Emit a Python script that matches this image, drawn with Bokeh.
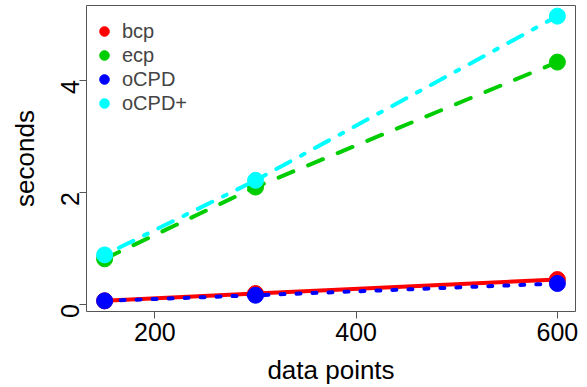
import math
from bokeh.plotting import figure
from bokeh.models import Range1d, FixedTicker, Legend, LegendItem
from bokeh.embed import file_html
from bokeh.resources import INLINE

# ---- data ----
x_points = [150, 300, 600]
bcp = [0.06, 0.19, 0.44]
ecp = [0.81, 2.09, 4.32]
ocpd = [0.06, 0.16, 0.37]
ocpd_plus = [0.88, 2.21, 5.14]
series_names = ["bcp", "ecp", "oCPD", "oCPD+"]
series_values = [bcp, ecp, ocpd, ocpd_plus]
series_colors = ["#FF0000", "#00CD00", "#0000FF", "#00FFFF"]
series_dash = ["solid", "16 16", "4 12", "4 12 16 12"]
x_ticks = [200, 400, 600]
y_ticks = [0, 2, 4]

FONT = "Liberation Sans"

p = figure(width=587, height=387, output_backend="svg", toolbar_location=None,
           x_range=Range1d(132, 618), y_range=Range1d(-0.13, 5.33))
p.min_border_left = 86
p.min_border_right = 12
p.min_border_top = 5
p.min_border_bottom = 70
p.xgrid.visible = False
p.ygrid.visible = False
p.outline_line_color = "#555555"
p.outline_line_width = 1
p.background_fill_color = "white"
p.border_fill_color = "white"

for ax in (p.xaxis[0], p.yaxis[0]):
    ax.axis_line_color = None
    ax.major_tick_line_color = "#555555"
    ax.major_tick_in = 0
    ax.major_tick_out = 7
    ax.minor_tick_line_color = None
    ax.major_label_text_font = FONT
    ax.major_label_text_font_size = "25px"
    ax.major_label_text_color = "black"
    ax.axis_label_text_font = FONT
    ax.axis_label_text_font_size = "26px"
    ax.axis_label_text_font_style = "normal"
    ax.axis_label_text_color = "black"

p.xaxis.ticker = FixedTicker(ticks=x_ticks)
p.yaxis.ticker = FixedTicker(ticks=y_ticks)
p.xaxis.axis_label = "data points"
p.yaxis.axis_label = "seconds"
p.xaxis.major_label_standoff = 4
p.yaxis.major_label_standoff = 9
p.yaxis.major_label_orientation = math.pi / 2
p.xaxis.axis_label_standoff = 11
p.yaxis.axis_label_standoff = 10

items = []
for name, vals, col, dash in zip(series_names, series_values, series_colors, series_dash):
    p.line(x_points, vals, line_color=col, line_width=4, line_dash=dash, line_cap="round")
    r = p.scatter(x_points, vals, size=16, fill_color=col, line_color=col, line_width=1)
    items.append(LegendItem(label=name, renderers=[r]))

legend = Legend(items=items, location=(6, 196), spacing=0, padding=0, margin=0,
                glyph_width=24, glyph_height=24, label_height=24, label_standoff=6,
                label_text_font=FONT, label_text_font_size="20px",
                border_line_color=None, background_fill_alpha=0)
p.add_layout(legend, "center")

open("out.html", "w").write(file_html(p, INLINE))
